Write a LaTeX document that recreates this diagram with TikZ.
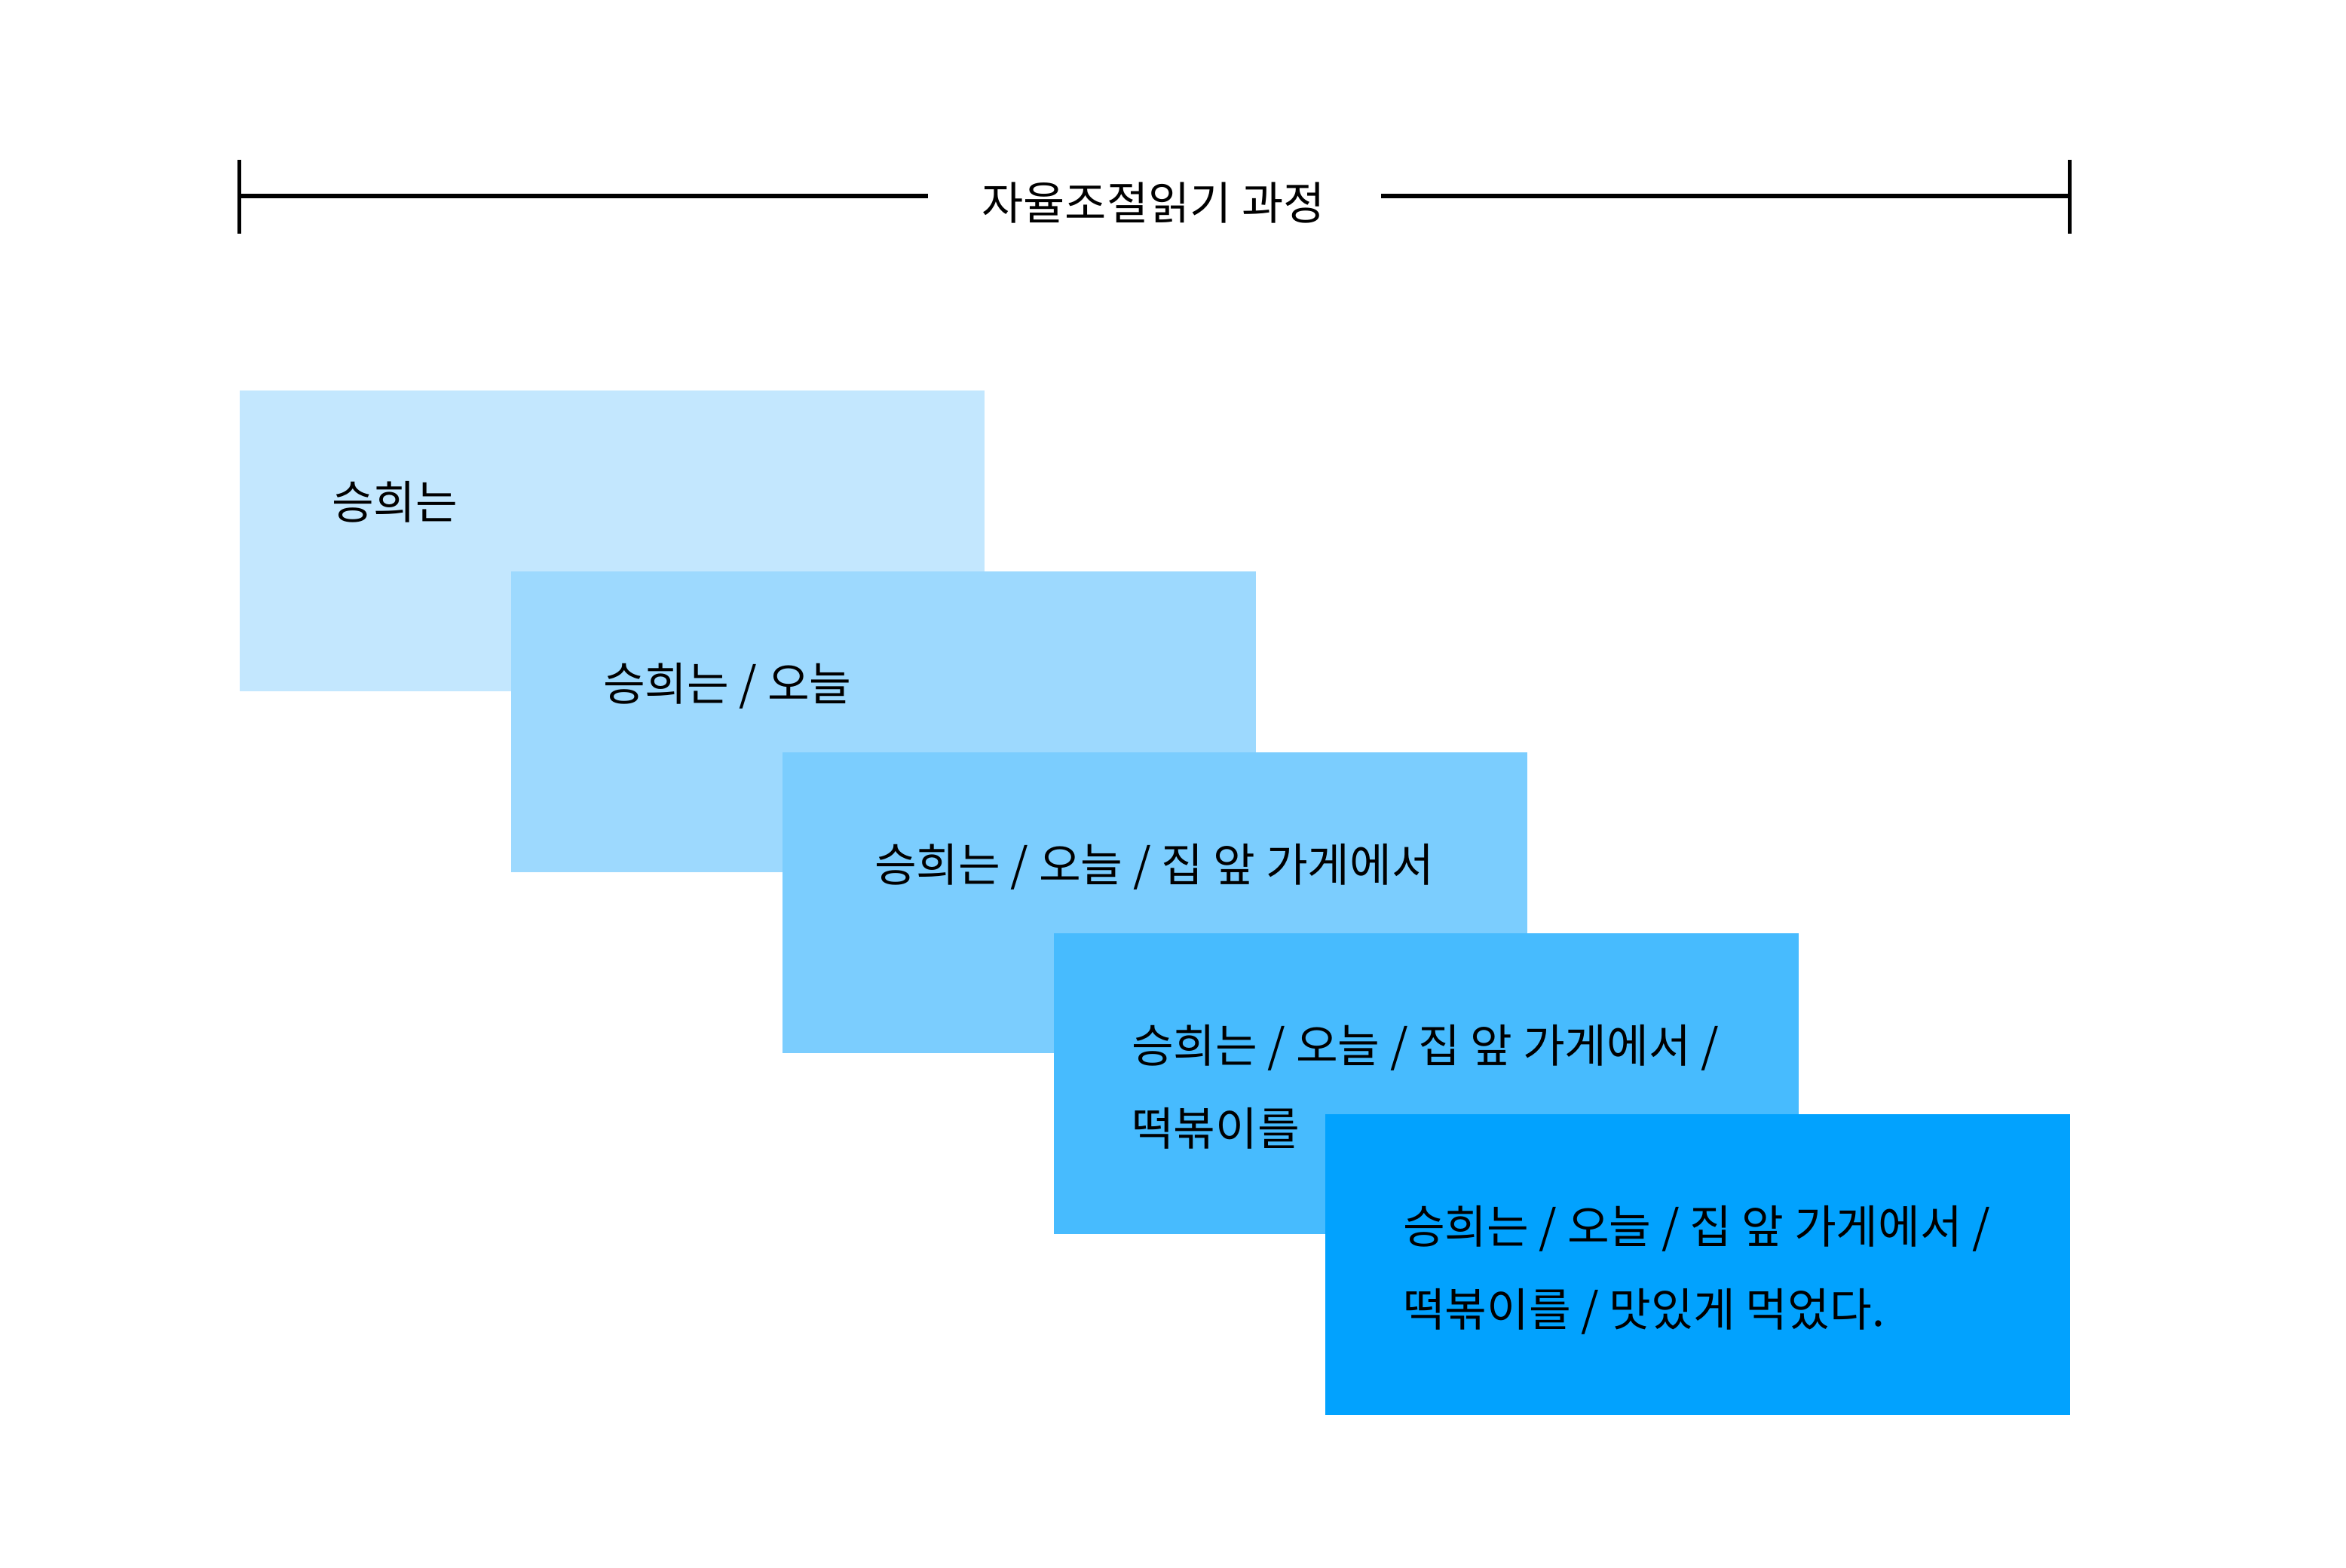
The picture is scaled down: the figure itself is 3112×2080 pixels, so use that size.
\documentclass[tikz,border=0pt]{standalone}
\usepackage{fontspec}
\newfontfamily\kr{Noto Sans CJK KR}
\definecolor{bA}{HTML}{C3E7FE}
\definecolor{bB}{HTML}{9DD9FE}
\definecolor{bC}{HTML}{7BCDFE}
\definecolor{bD}{HTML}{47BBFE}
\definecolor{bE}{HTML}{02A2FE}
\tikzset{
  stepbox/.style={draw=none, inner sep=0pt, outer sep=0pt, minimum width=494pt, minimum height=199.5pt, anchor=north west},
  boxtext/.style={inner sep=0pt, outer sep=0pt, anchor=base west, font=\kr\fontsize{30.3}{55}\selectfont, text=black},
  titletext/.style={inner sep=0pt, outer sep=0pt, font=\kr\fontsize{30}{40}\selectfont, text=black},
  ruler/.style={line width=3pt, draw=black},
  tick/.style={line width=2.5pt, draw=black}
}
\begin{document}
\begin{tikzpicture}[x=0.5pt, y=-0.5pt]
\useasboundingbox[fill=white] (0,0) rectangle (3112,2080);
% ruler
\coordinate (rl) at (317,260);
\coordinate (rr) at (2745,260);
\coordinate (rlt) at (317,212);
\coordinate (rlb) at (317,310);
\coordinate (rrt) at (2745,212);
\coordinate (rrb) at (2745,310);
\coordinate (la) at (1231,260);
\coordinate (lb) at (1832,260);
\node[titletext, anchor=base] (title) at (1530,292) {자율조절읽기 과정};
\draw[ruler] (rl) -- (la);
\draw[ruler] (lb) -- (rr);
\draw[tick] (rlt) -- (rlb);
\draw[tick] (rrt) -- (rrb);
% boxes
\node[stepbox, fill=bA] (b1) at (318,518) {};
\node[stepbox, fill=bB] (b2) at (678,758) {};
\node[stepbox, fill=bC] (b3) at (1038,998) {};
\node[stepbox, fill=bD] (b4) at (1398,1238) {};
\node[stepbox, fill=bE] (b5) at (1758,1478) {};
% texts
\node[boxtext] (t1) at (440,689) {승희는};
\node[boxtext] (t2) at (800,929) {승희는 / 오늘};
\node[boxtext] (t3) at (1160,1169) {승희는 / 오늘 / 집 앞 가게에서};
\node[boxtext] (t4a) at (1501,1409) {승희는 / 오늘 / 집 앞 가게에서 /};
\node[boxtext] (t4b) at (1501,1519) {떡볶이를};
\node[boxtext] (t5a) at (1861,1649) {승희는 / 오늘 / 집 앞 가게에서 /};
\node[boxtext] (t5b) at (1861,1759) {떡볶이를 / 맛있게 먹었다.};
\end{tikzpicture}
\end{document}
